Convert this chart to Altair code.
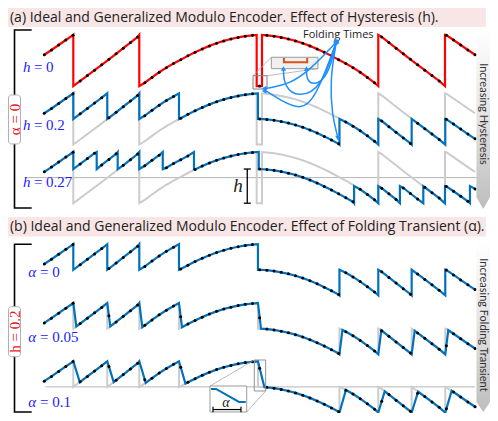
import altair as alt
import numpy as np
import pandas as pd

# ------------------------------------------------------------------ data
# unfolded input signal g(t) at the sampling instants t = 0 ... 60
signal = [0.045, 0.082, 0.121, 0.160, 0.198, 0.240, 0.282, 0.324, 0.366, 0.409,
          0.452, 0.496, 0.540, 0.584, 0.626, 0.668, 0.708, 0.744, 0.776, 0.806,
          0.836, 0.864, 0.890, 0.914, 0.935, 0.953, 0.968, 0.980, 0.990, 0.9965,
          1.0003,
          0.9965, 0.990, 0.980, 0.968, 0.953, 0.935, 0.914, 0.890, 0.864, 0.836,
          0.806, 0.776, 0.744, 0.708, 0.668, 0.626, 0.584, 0.540, 0.496, 0.452,
          0.409, 0.366, 0.324, 0.282, 0.240, 0.198, 0.160, 0.121, 0.082, 0.045]
LAMBDA = 0.2
hyst_values = [0.0, 0.2, 0.2667]
hyst_labels = ["= 0", "= 0.2", "= 0.27"]
# folding instants (sampling periods)
folds_down = [[4.04, 13.23, 29.58],
              [4.04, 8.77, 13.23, 18.76, 29.76],
              [4.04, 7.30, 10.22, 13.23, 16.5, 20.85, 29.87]]
folds_up = [[30.32, 46.52, 55.81],
            [41.11, 46.52, 51.17, 55.85],
            [43.15, 46.52, 49.53, 52.79, 55.81, 59.29]]
alpha_values = [0.0, 0.05, 0.1]
alpha_labels = ["= 0", "= 0.05", "= 0.1"]
transient_len = [0.0, 0.42, 0.9]  # folding transient duration, sampling periods
row_offset_a = [0.0, -0.457, -0.915]
row_offset_b = [-1.635, -2.095, -2.55]
titles = ["(a) Ideal and Generalized Modulo Encoder. Effect of Hysteresis (h).",
          "(b) Ideal and Generalized Modulo Encoder. Effect of Folding Transient (α)."]
side_labels = ["Increasing Hysteresis", "Increasing Folding Transient"]
group_labels = ["α = 0", "h = 0.2"]

XDOM = [-5.056, 62.08]
YDOM = [-2.754, 0.41]

t_s = np.arange(len(signal), dtype=float)
g_s = np.array(signal)


def encode(down, up, drop, ramp=0.0):
    def off(t):
        return drop * (sum(d <= t for d in down) - sum(u <= t for u in up))
    pts, ramps = [], []
    events = sorted([(d, "d") for d in down] + [(u, "u") for u in up])
    for tf, kind in events:
        pre = LAMBDA if kind == "d" else -LAMBDA
        if ramp == 0:
            post = pre - drop if kind == "d" else pre + drop
            pts += [(tf, pre, 0), (tf, post, 1)]
        else:
            te = tf + ramp
            ve = float(np.interp(te, t_s, g_s)) - off(te)
            pts += [(tf, pre, 0), (te, ve, 1)]
            ramps.append((tf, te, pre, ve))
    samples = []
    for n, gv in zip(t_s, g_s):
        v = gv - off(n)
        for a, b, va, vb in ramps:
            if a < n < b:
                v = va + (vb - va) * (n - a) / (b - a)
        samples.append((n, v))
        pts.append((n, v, 0.5))
    pts.sort(key=lambda p: (p[0], p[2]))
    return pts, samples


line_recs, dot_recs = [], []


def add_line(pts, off, lid, kind):
    for i, (t, v, _) in enumerate(pts):
        line_recs.append(dict(t=t, v=v + off, id=lid, i=i, kind=kind))


def add_dots(samples, off):
    for t, v in samples:
        dot_recs.append(dict(t=t, v=v + off))


ideal_pts, _ = encode(folds_down[0], folds_up[0], 2 * LAMBDA - hyst_values[0])
for r in range(3):
    pts, s = encode(folds_down[r], folds_up[r], 2 * LAMBDA - hyst_values[r])
    if r > 0:
        add_line(ideal_pts, row_offset_a[r], f"a{r}g", "gray")
    add_line(pts, row_offset_a[r], f"a{r}", "red" if r == 0 else "blue")
    add_dots(s, row_offset_a[r])

base_pts, _ = encode(folds_down[1], folds_up[1], 2 * LAMBDA - hyst_values[1])
for r in range(3):
    pts, s = encode(folds_down[1], folds_up[1], 2 * LAMBDA - hyst_values[1], transient_len[r])
    if r > 0:
        add_line(base_pts, row_offset_b[r], f"b{r}g", "gray")
    add_line(pts, row_offset_b[r], f"b{r}", "blue")
    add_dots(s, row_offset_b[r])

lines = pd.DataFrame(line_recs)
dots = pd.DataFrame(dot_recs)


def X(f="t"):
    return alt.X(f"{f}:Q", scale=alt.Scale(domain=XDOM, nice=False, zero=False), axis=None)


def Y(f="v"):
    return alt.Y(f"{f}:Q", scale=alt.Scale(domain=YDOM, nice=False, zero=False), axis=None)


def polylines(segs):
    recs = []
    for k, seg in enumerate(segs):
        for i, (t, v) in enumerate(seg):
            recs.append(dict(t=t, v=v, id=k, i=i))
    return pd.DataFrame(recs)


def line_layer(segs, **kw):
    return alt.Chart(polylines(segs)).mark_line(**kw).encode(
        x=X(), y=Y(), detail="id:N", order="i:Q")


def rect_layer(rows, **kw):
    df = pd.DataFrame(rows, columns=["t", "t2", "v", "v2"])
    return alt.Chart(df).mark_rect(**kw).encode(x=X(), x2="t2:Q", y=Y(), y2="v2:Q")


def text_layer(rows, **kw):
    df = pd.DataFrame(rows, columns=["t", "v", "label"])
    return alt.Chart(df).mark_text(**kw).encode(x=X(), y=Y(), text="label:N")


# ---------------------------------------------------------------- layers
layers = []
# title bars
layers.append(rect_layer([(-5.056, 61.5, 0.41, 0.2617), (-5.056, 61.5, -1.2227, -1.375)],
                         fill="#f8e6e6"))
layers.append(text_layer([(-4.78, 0.332, titles[0]), (-4.78, -1.299, titles[1])],
                         align="left", baseline="middle", font="Open Sans", fontSize=14,
                         color="#222222"))
# zero lines
layers.append(line_layer([[(-2.707, row_offset_a[2]), (60.26, row_offset_a[2])],
                          [(0.195, row_offset_b[2]), (59.99, row_offset_b[2])]],
                         color="#b5b5b5", strokeWidth=1))
# signal lines
for kind, col, w in [("gray", "#cccccc", 2), ("red", "#ff0000", 2.2), ("blue", "#0072BD", 2.2)]:
    layers.append(alt.Chart(lines[lines.kind == kind]).mark_line(
        color=col, strokeWidth=w, strokeJoin="miter").encode(
        x=X(), y=Y(), detail="id:N", order="i:Q"))
layers.append(alt.Chart(dots).mark_point(filled=True, color="black", size=9, opacity=1).encode(
    x=X(), y=Y()))

# left brackets
layers.append(line_layer([[(-1.755, 0.238), (-4.15, 0.238), (-4.15, -1.152), (-1.755, -1.152)],
                          [(-1.755, -1.436), (-4.15, -1.436), (-4.15, -2.746), (-1.755, -2.746)]],
                         color="black", strokeWidth=1.6))
layers.append(rect_layer([(-4.986, -3.315, -0.2695, -0.652), (-4.986, -3.315, -1.923, -2.314)],
                         fill="white", stroke="#b0b0b0", strokeWidth=1, cornerRadius=3))
layers.append(text_layer([(-4.15, -0.461, group_labels[0]), (-4.15, -2.119, group_labels[1])],
                         angle=270, align="center", baseline="middle",
                         font="Liberation Serif", fontSize=15, color="#e8141e"))
# row labels
layers.append(text_layer([(-2.967, -0.048, "h"), (-2.967, -0.504, "h"), (-2.967, -0.949, "h")],
                         align="left", baseline="middle", font="Liberation Serif",
                         fontStyle="italic", fontSize=15, color="#2020ff"))
layers.append(text_layer([(-1.45, -0.048, hyst_labels[0]), (-1.45, -0.504, hyst_labels[1]),
                          (-1.45, -0.949, hyst_labels[2])],
                         align="left", baseline="middle", font="Liberation Serif",
                         fontSize=15, color="#2020ff"))
layers.append(text_layer([(-2.228, -1.655, "α"), (-2.228, -2.158, "α"), (-2.228, -2.666, "α")],
                         align="left", baseline="middle", font="Liberation Serif",
                         fontStyle="italic", fontSize=15, color="#2020ff"))
layers.append(text_layer([(-0.599, -1.655, alpha_labels[0]), (-0.599, -2.158, alpha_labels[1]),
                          (-0.599, -2.666, alpha_labels[2])],
                         align="left", baseline="middle", font="Liberation Serif",
                         fontSize=15, color="#2020ff"))

# side arrows with gradient
arrow_df = pd.DataFrame([
    dict(t=60.19, v=0.254, v2=-1.066, id=0), dict(t=61.135, v=0.254, v2=-1.16, id=0),
    dict(t=62.08, v=0.254, v2=-1.066, id=0),
    dict(t=60.19, v=-1.418, v2=-2.668, id=1), dict(t=61.135, v=-1.418, v2=-2.746, id=1),
    dict(t=62.08, v=-1.418, v2=-2.668, id=1)])
layers.append(alt.Chart(arrow_df).mark_area(
    color=alt.Gradient(gradient="linear",
                       stops=[alt.GradientStop(color="#ffffff", offset=0),
                              alt.GradientStop(color="#e6e6e6", offset=0.45),
                              alt.GradientStop(color="#bdbdbd", offset=1)],
                       x1=0, x2=0, y1=0, y2=1)).encode(
    x=X(), y=Y(), y2="v2:Q", detail="id:N"))
layers.append(text_layer([(61.135, -0.418, side_labels[0]), (61.135, -2.066, side_labels[1])],
                         angle=90, align="center", baseline="middle", font="Lato",
                         fontSize=11, color="#333333"))

# h bracket
layers.append(line_layer([[(28.27, -1.115), (28.27, -0.848)],
                          [(27.78, -1.115), (28.76, -1.115)],
                          [(27.78, -0.848), (28.76, -0.848)]],
                         color="black", strokeWidth=1.3))
layers.append(text_layer([(26.98, -0.98, "h")], align="center", baseline="middle",
                         font="Liberation Serif", fontStyle="italic", fontSize=19, color="#222222"))

# inset of panel (a)
layers.append(line_layer([[(29.07, -0.119), (31.62, 0.025)], [(31.02, -0.119), (38.12, -0.064)]],
                         color="#aaaaaa", strokeWidth=0.8))
layers.append(rect_layer([(29.07, 31.02, -0.119, -0.223)], fill=None, stroke="#808080",
                         strokeWidth=1, fillOpacity=0))
layers.append(rect_layer([(31.62, 38.12, 0.025, -0.064)], fill="#f0f0f0", stroke="#9a9a9a",
                         strokeWidth=1))
layers.append(line_layer([[(33.38, 0.0195), (33.38, -0.0141), (36.62, -0.0141), (36.62, 0.0195)]],
                         color="#D95319", strokeWidth=2))

# folding times annotation
layers.append(text_layer([(40.95, 0.199, "Folding Times")], align="center", baseline="middle",
                         font="Open Sans", fontSize=11, color="#222222"))
curves = [
    [(40.669, 0.1445), (38.677, -0.2148), (35.334, -0.293), (33.384, -0.1992), (33.315, -0.0742)],
    [(40.669, 0.1445), (39.513, -0.1367), (37.284, -0.1992), (36.518, -0.1367), (36.518, -0.0742)],
    [(40.669, 0.1445), (37.006, -0.0742), (34.220, -0.1836), (30.877, -0.2188)],
    [(40.669, 0.1445), (37.702, -0.3086), (35.613, -0.3867), (32.827, -0.3086), (30.877, -0.2383)],
    [(40.669, 0.1445), (39.791, -0.1523), (40.070, -0.4258), (40.836, -0.5898)],
]
layers.append(line_layer(curves, color="#1E90FF", strokeWidth=1.5, interpolate="basis"))
heads = pd.DataFrame([
    dict(t=33.315, v=-0.062, shape="triangle-up"),
    dict(t=36.518, v=-0.062, shape="triangle-up"),
    dict(t=30.62, v=-0.2188, shape="triangle-left"),
    dict(t=30.62, v=-0.2383, shape="triangle-left"),
    dict(t=40.87, v=-0.605, shape="triangle-down"),
])
layers.append(alt.Chart(heads).mark_point(filled=True, color="#1E90FF", size=28, opacity=1).encode(
    x=X(), y=Y(), shape=alt.Shape("shape:N", scale=None)))
layers.append(alt.Chart(pd.DataFrame([dict(t=40.669, v=0.1445)])).mark_point(
    filled=True, color="#1E90FF", size=30, opacity=1).encode(x=X(), y=Y()))

# inset of panel (b)
layers.append(line_layer([[(29.248, -2.340), (23.078, -2.543)], [(30.836, -2.582), (28.19, -2.746)]],
                         color="#aaaaaa", strokeWidth=0.8))
layers.append(rect_layer([(29.248, 30.836, -2.340, -2.582)], fill=None, stroke="#909090",
                         strokeWidth=1, fillOpacity=0))
layers.append(rect_layer([(23.078, 28.19, -2.543, -2.746)], fill="white", stroke="#9a9a9a",
                         strokeWidth=1))
layers.append(line_layer([[(23.217, -2.566), (23.914, -2.566), (27.117, -2.668), (28.05, -2.668)]],
                         color="#0072BD", strokeWidth=2))
layers.append(line_layer([[(23.496, -2.727), (27.396, -2.727)],
                          [(23.496, -2.705), (23.496, -2.749)],
                          [(27.396, -2.705), (27.396, -2.749)]],
                         color="black", strokeWidth=1.2))
layers.append(text_layer([(25.306, -2.674, "α")], align="center", baseline="middle",
                         font="Liberation Serif", fontStyle="italic", fontSize=14, color="#222222"))

chart = alt.layer(*layers).properties(
    width=482, height=405, padding=0, autosize="none"
).configure_view(stroke=None)

chart.save("out.html", embed_options={"renderer": "svg", "actions": False})
